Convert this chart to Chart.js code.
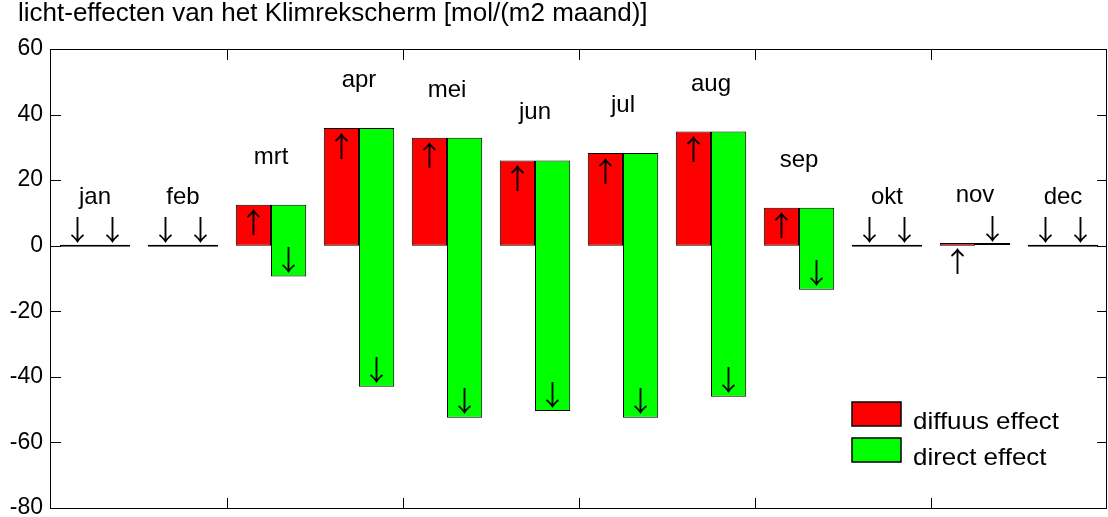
<!DOCTYPE html>
<html>
<head>
<meta charset="utf-8">
<title>licht-effecten van het Klimrekscherm</title>
<script src="https://cdn.jsdelivr.net/npm/chart.js@4/dist/chart.umd.min.js"></script>
<style>
  html, body { margin: 0; padding: 0; background: #ffffff; }
  #wrap { width: 1108px; height: 517px; }
</style>
</head>
<body>
<div id="wrap"><canvas id="c" width="1108" height="517"></canvas></div>
<script>
// Monthly light effects of the screen, mol/(m2 maand)
const months = ['jan', 'feb', 'mrt', 'apr', 'mei', 'jun', 'jul', 'aug', 'sep', 'okt', 'nov', 'dec'];
// diffuse gain per month (starts at 0)
const diffuus = [0, 0, 12.5, 35.9, 32.9, 26.0, 28.3, 34.8, 11.6, 0, 0.8, 0];
// direct change per month (stacked on top of the diffuse gain)
const direct = [0, 0, -21.9, -78.9, -85.4, -76.4, -80.8, -80.9, -25.0, 0, 0, 0];
const yTicks = [-80, -60, -40, -20, 0, 20, 40, 60];
const seriesNames = ['diffuus effect', 'direct effect'];
const seriesColors = ['#ff0000', '#00ff00'];
const titleText = 'licht-effecten van het Klimrekscherm [mol/(m2 maand)]';

const FONT = "'Liberation Sans', Arial, Helvetica, sans-serif";
const ARROW_FONT = "'Noto Sans CJK SC', 'DejaVu Sans', sans-serif";

// floating bars: diffuse from 0, direct from the diffuse level onward
const diffuusBars = diffuus.map(v => [0, v]);
const directBars = diffuus.map((v, i) => [v, v + direct[i]]);

function drawText(ctx, text, x, y, size, align, sx, family) {
  ctx.save();
  ctx.font = size + 'px ' + (family || FONT);
  ctx.textAlign = align;
  ctx.textBaseline = 'alphabetic';
  ctx.fillStyle = '#000';
  ctx.translate(x, y);
  ctx.scale(sx || 1, 1);
  ctx.fillText(text, 0, 0);
  ctx.restore();
}

const decorations = {
  id: 'decorations',
  afterDatasetsDraw(chart) {
    const ctx = chart.ctx;
    const a = chart.chartArea;
    const xs = chart.scales.x, ys = chart.scales.y;

    // box around the plot with inward ticks
    ctx.save();
    ctx.strokeStyle = '#000';
    ctx.lineWidth = 1;
    ctx.strokeRect(a.left - 0.5, a.top + 0.5, a.right - a.left, a.bottom - a.top);
    ctx.beginPath();
    yTicks.forEach(v => {
      const py = Math.round(ys.getPixelForValue(v)) + 0.5;
      ctx.moveTo(a.left, py); ctx.lineTo(a.left + 10, py);
      ctx.moveTo(a.right, py); ctx.lineTo(a.right - 10, py);
    });
    for (let k = 1.5; k < months.length - 1; k += 2) {
      const px = Math.round(xs.getPixelForValue(k)) + 0.5;
      ctx.moveTo(px, a.top); ctx.lineTo(px, a.top + 11);
      ctx.moveTo(px, a.bottom); ctx.lineTo(px, a.bottom - 10);
    }
    ctx.stroke();
    ctx.restore();

    // direction arrows on each bar and month names above each pair
    const m0 = chart.getDatasetMeta(0).data;
    const m1 = chart.getDatasetMeta(1).data;
    const deltas = [diffuus, direct];
    [m0, m1].forEach((els, di) => {
      els.forEach((el, j) => {
        const top = Math.min(el.y, el.base);
        const bot = Math.max(el.y, el.base);
        ctx.save();
        ctx.font = '28px ' + ARROW_FONT;
        ctx.textAlign = 'center';
        ctx.textBaseline = 'middle';
        ctx.fillStyle = '#000';
        if (deltas[di][j] > 0) {
          ctx.fillText('\u2191', el.x, top + 18);
        } else {
          ctx.fillText('\u2193', el.x, bot - 16);
        }
        ctx.restore();
      });
    });
    months.forEach((m, j) => {
      const top = Math.min(m0[j].y, m0[j].base, m1[j].y, m1[j].base);
      drawText(ctx, m, xs.getPixelForValue(j), top - 41, 24, 'center', 1);
    });

    // legend in the lower right
    const lx = 852, ly = [402, 438];
    seriesNames.forEach((name, i) => {
      ctx.save();
      ctx.fillStyle = seriesColors[i];
      ctx.fillRect(lx, ly[i], 49, 24);
      ctx.strokeStyle = '#000';
      ctx.lineWidth = 1.5;
      ctx.strokeRect(lx, ly[i], 49, 24);
      ctx.restore();
      drawText(ctx, name, 913, ly[i] + 27, 24, 'left', 1.08);
    });

    // title
    drawText(ctx, titleText, 18, 21, 26, 'left', 1);
  }
};

new Chart(document.getElementById('c'), {
  type: 'bar',
  data: {
    labels: months,
    datasets: [
      { label: seriesNames[0], data: diffuusBars, backgroundColor: seriesColors[0] },
      { label: seriesNames[1], data: directBars, backgroundColor: seriesColors[1] }
    ]
  },
  options: {
    responsive: false,
    animation: false,
    layout: { padding: { top: 49, right: 1, left: 0, bottom: 0 } },
    datasets: {
      bar: {
        categoryPercentage: 0.8,
        barPercentage: 1.0,
        borderColor: '#000',
        borderWidth: 1,
        borderSkipped: false,
        minBarLength: 2
      }
    },
    plugins: {
      legend: { display: false },
      title: { display: false },
      tooltip: { enabled: false }
    },
    scales: {
      x: {
        grid: { display: false, drawTicks: false },
        border: { display: false },
        ticks: { display: false },
        afterFit: s => {
          s.height = 9;
          s.paddingLeft = 0; s.paddingRight = 0;
        }
      },
      y: {
        min: -80,
        max: 60,
        afterBuildTicks: s => { s.ticks = yTicks.map(v => ({ value: v })); },
        grid: { display: false, drawTicks: false },
        border: { display: false },
        ticks: {
          color: '#000',
          padding: 8,
          font: { family: FONT, size: 23 }
        },
        afterFit: s => {
          s.width = 51;
          s.paddingTop = 0; s.paddingBottom = 0;
        }
      }
    }
  },
  plugins: [decorations]
});
</script>
</body>
</html>
